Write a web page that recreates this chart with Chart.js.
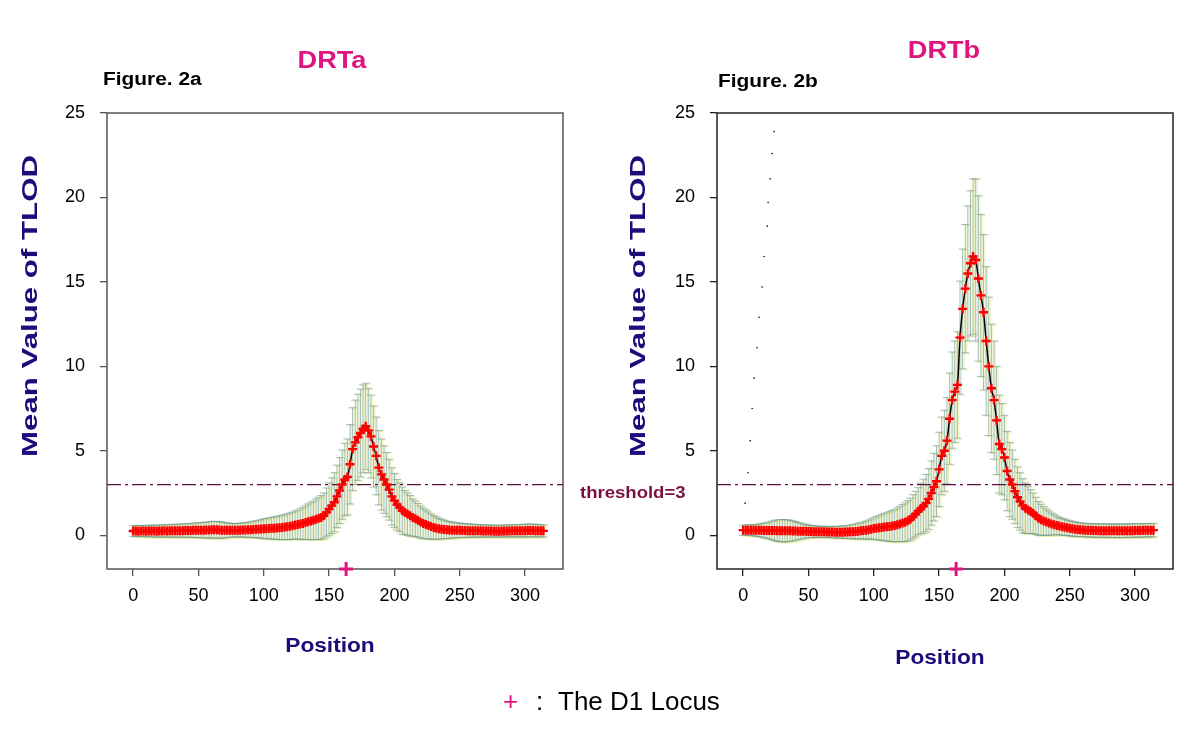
<!DOCTYPE html>
<html>
<head>
<meta charset="utf-8">
<script src="https://cdn.jsdelivr.net/npm/chart.js@4"></script>
<style>
    body { margin: 0; background: #fff; font-family: "Liberation Sans", Arial, sans-serif; }
    #page { position: relative; width: 1200px; height: 751px; overflow: hidden; }
    .panel { position: absolute; top: 0; }
    .txt { position: absolute; white-space: nowrap; }
    .title { color: #e0147f; font-weight: bold; font-size: 24px; transform: translate(-50%, -50%) scaleX(1.13); }
    .fig { color: #000; font-weight: bold; font-size: 18px; transform-origin: left center; transform: translateY(-50%) scaleX(1.16); }
    .xlab { color: #1e0a78; font-weight: bold; font-size: 21px; transform: translate(-50%, -50%) scaleX(1.08); }
    .ylab { color: #1e0a78; font-weight: bold; font-size: 22px; transform: translate(-50%, -50%) rotate(-90deg) scaleX(1.42); }
</style>
</head>
<body>
<div id="page">
    <div class="panel" style="left:0;width:600px;height:751px;"><canvas id="chart-a" width="600" height="751"></canvas></div>
    <div class="panel" style="left:610px;width:590px;height:751px;"><canvas id="chart-b" width="590" height="751"></canvas></div>

    <div class="txt title" style="left:332px;top:60px;">DRTa</div>
    <div class="txt title" style="left:944px;top:50px;">DRTb</div>
    <div class="txt fig" style="left:103px;top:79px;">Figure. 2a</div>
    <div class="txt fig" style="left:718px;top:81px;">Figure. 2b</div>
    <div class="txt ylab" style="left:30px;top:306px;">Mean Value of TLOD</div>
    <div class="txt ylab" style="left:638px;top:306px;">Mean Value of TLOD</div>
    <div class="txt xlab" style="left:330px;top:645px;">Position</div>
    <div class="txt xlab" style="left:940px;top:657px;">Position</div>
    <div class="txt" style="left:580px;top:483px;color:#7a1040;font-weight:bold;font-size:17px;transform-origin:left center;transform:scaleX(1.09);">threshold=3</div>
    <div class="txt" style="left:503px;top:686px;font-size:26px;color:#e0147f;">+</div>
    <div class="txt" style="left:536px;top:686px;font-size:26px;color:#000;">:</div>
    <div class="txt" style="left:558px;top:686px;font-size:26px;color:#000;">The D1 Locus</div>
</div>

<script>
// Dados
const positions = [0,2,4,6,8,10,12,14,16,18,20,22,24,26,28,30,32,34,36,38,40,42,44,46,48,50,52,54,56,58,60,62,64,66,68,70,72,74,76,78,80,82,84,86,88,90,92,94,96,98,100,102,104,106,108,110,112,114,116,118,120,122,124,126,128,130,132,134,136,138,140,142,144,146,148,150,152,154,156,158,160,162,164,166,168,170,172,174,176,178,180,182,184,186,188,190,192,194,196,198,200,202,204,206,208,210,212,214,216,218,220,222,224,226,228,230,232,234,236,238,240,242,244,246,248,250,252,254,256,258,260,262,264,266,268,270,272,274,276,278,280,282,284,286,288,290,292,294,296,298,300,302,304,306,308,310,312,314];

const meanA = [
    0.25,0.25,0.24,0.25,0.25,0.24,0.25,0.25,0.25,0.24,0.25,
    0.25,0.26,0.25,0.26,0.26,0.27,0.26,0.27,0.27,0.28,0.28,0.28,0.29,0.29,0.3,0.3,0.3,0.31,0.31,0.32,
    0.32,0.32,0.31,0.3,0.3,0.29,0.29,0.29,0.29,0.3,0.3,0.31,0.31,0.32,0.33,0.34,0.35,0.36,0.37,0.38,
    0.39,0.4,0.41,0.42,0.43,0.44,0.46,0.48,0.5,0.53,0.56,0.6,0.63,0.66,0.7,0.75,0.8,0.84,0.88,0.95,
    1.0,1.05,1.15,1.35,1.55,1.75,1.95,2.3,2.65,3.0,3.3,3.45,4.2,5.1,5.5,5.8,6.05,6.3,6.45,6.2,5.85,5.25,4.7,4.0,3.6,3.3,3.0,2.7,2.3,2.05,
    1.8,1.65,1.45,1.35,1.25,1.15,1.05,0.97,0.88,0.78,0.7,0.64,0.58,0.51,0.46,0.42,0.38,0.36,0.34,0.32,
    0.31,0.3,0.3,0.29,0.29,0.28,0.28,0.27,0.27,0.27,0.26,0.26,0.26,0.25,0.25,0.25,0.25,0.24,0.24,0.24,0.24,0.25,0.25,0.25,0.26,0.26,0.26,0.27,0.27,0.27,0.28,0.28,0.28,0.27,0.27,0.26,0.26
];
const sdA = [
    0.32,0.32,0.33,0.33,0.33,0.34,0.34,0.35,0.35,0.35,0.36,
    0.36,0.36,0.37,0.37,0.38,0.38,0.38,0.39,0.39,0.4,0.4,0.41,0.42,0.43,0.44,0.45,0.46,0.47,0.48,0.49,
    0.5,0.5,0.49,0.48,0.46,0.44,0.42,0.4,0.4,0.4,0.41,0.42,0.43,0.44,0.46,0.48,0.5,0.52,0.55,0.58,
    0.6,0.62,0.64,0.66,0.68,0.7,0.72,0.74,0.76,0.78,0.8,0.83,0.86,0.9,0.95,1.0,1.05,1.1,1.15,1.2,
    1.25,1.3,1.35,1.45,1.55,1.65,1.75,1.85,1.95,2.05,2.15,2.25,2.35,2.45,2.5,2.55,2.6,2.6,2.55,2.5,2.45,2.4,2.3,2.2,2.1,2.0,1.9,1.8,1.7,1.6,
    1.5,1.45,1.4,1.3,1.25,1.2,1.1,1.05,1.0,0.95,0.9,0.85,0.8,0.75,0.7,0.66,0.62,0.58,0.55,0.52,
    0.5,0.48,0.46,0.44,0.43,0.42,0.41,0.4,0.39,0.38,0.38,0.37,0.37,0.36,0.36,0.36,0.35,0.35,0.35,0.35,0.35,0.35,0.35,0.36,0.36,0.36,0.37,0.37,0.37,0.38,0.38,0.38,0.38,0.37,0.37,0.36,0.36
];

const meanB = [
    0.3,0.3,0.3,0.3,0.29,0.29,0.29,0.29,0.28,0.28,0.28,
    0.28,0.28,0.27,0.27,0.27,0.26,0.26,0.26,0.25,0.25,0.24,0.24,0.23,0.23,0.22,0.22,0.21,0.21,0.2,0.2,
    0.2,0.19,0.19,0.19,0.18,0.18,0.18,0.18,0.19,0.19,0.2,0.21,0.22,0.24,0.26,0.28,0.3,0.33,0.36,0.4,
    0.42,0.44,0.46,0.48,0.5,0.52,0.54,0.57,0.62,0.67,0.72,0.77,0.85,0.95,1.1,1.25,1.42,1.58,1.72,1.9,
    2.15,2.5,2.85,3.2,3.9,4.7,5.0,5.6,6.9,8.0,8.5,8.9,11.7,13.4,14.6,15.5,16.1,16.5,16.3,15.2,14.2,13.2,11.5,10.0,8.7,8.0,6.8,5.4,5.1,4.6,
    3.8,3.3,3.0,2.6,2.25,2.0,1.75,1.6,1.5,1.4,1.3,1.15,1.0,0.92,0.84,0.78,0.72,0.66,0.62,0.58,
    0.54,0.5,0.47,0.44,0.41,0.38,0.36,0.34,0.32,0.31,0.3,0.29,0.29,0.28,0.28,0.27,0.27,0.27,0.27,0.27,0.26,0.26,0.26,0.26,0.26,0.26,0.27,0.27,0.27,0.28,0.28,0.28,0.29,0.29,0.3,0.3,0.3
];
const sdB = [
    0.3,0.3,0.31,0.32,0.33,0.35,0.37,0.4,0.43,0.46,0.5,
    0.55,0.6,0.63,0.65,0.66,0.66,0.65,0.63,0.6,0.56,0.52,0.48,0.44,0.4,0.38,0.36,0.35,0.34,0.33,0.33,
    0.33,0.33,0.33,0.34,0.34,0.35,0.35,0.36,0.37,0.38,0.4,0.42,0.44,0.46,0.48,0.5,0.53,0.56,0.6,0.64,
    0.68,0.72,0.76,0.8,0.84,0.88,0.92,0.96,1.0,1.05,1.1,1.15,1.2,1.25,1.3,1.35,1.4,1.5,1.6,1.7,
    1.8,1.9,2.0,2.1,2.2,2.3,2.4,2.55,2.7,2.85,3.0,3.15,3.35,3.55,3.8,4.0,4.3,4.6,4.8,4.9,4.8,4.6,4.4,4.1,3.8,3.5,3.2,2.9,2.7,2.5,
    2.35,2.2,2.05,1.9,1.8,1.7,1.6,1.5,1.4,1.3,1.2,1.1,1.0,0.92,0.85,0.78,0.72,0.66,0.6,0.55,
    0.52,0.5,0.48,0.46,0.45,0.44,0.43,0.42,0.41,0.4,0.4,0.4,0.4,0.4,0.4,0.4,0.4,0.4,0.4,0.4,0.4,0.4,0.4,0.4,0.4,0.4,0.4,0.4,0.4,0.4,0.4,0.4,0.4,0.4,0.4,0.4,0.4
];

// pontinhos soltos no painel 2b
const dotsX = [1.5,3.8,5.4,6.9,8.4,10.7,12.2,14.5,16.1,18.4,19.1,20.7,22.2,23.7];
const dotsY = [1.9,3.7,5.6,7.5,9.3,11.1,12.9,14.7,16.5,18.3,19.7,21.1,22.6,23.9];

const locusPosition = 163;
const threshold = 3;
const xTicks = [0, 50, 100, 150, 200, 250, 300];
const yTicks = [0, 5, 10, 15, 20, 25];

// Moldura e barras de erro, desenhadas com as escalas do Chart.js
const errorBarsPlugin = {
    id: 'errorBars',
    beforeDatasetsDraw(chart, args, opts) {
        const { ctx, chartArea, scales } = chart;
        ctx.save();
        ctx.strokeStyle = opts.boxColor || '#333';
        ctx.lineWidth = 1.5;
        ctx.strokeRect(chartArea.left, chartArea.top, chartArea.width, chartArea.height);

        ctx.beginPath();
        ctx.rect(chartArea.left, chartArea.top, chartArea.width, chartArea.height);
        ctx.clip();
        chart.data.datasets.forEach(ds => {
            if (!ds.errors) return;
            ds.data.forEach((p, i) => {
                const x = scales.x.getPixelForValue(p.x);
                const top = scales.y.getPixelForValue(p.y + ds.errors[i]);
                const bot = scales.y.getPixelForValue(p.y - ds.errors[i]);
                ctx.lineWidth = 1;
                ctx.strokeStyle = 'rgba(232, 235, 160, 0.75)';
                ctx.beginPath();
                ctx.moveTo(x + 1.5, top); ctx.lineTo(x + 1.5, bot);
                ctx.moveTo(x - 2, top + 1); ctx.lineTo(x + 5, top + 1);
                ctx.moveTo(x - 2, bot + 1); ctx.lineTo(x + 5, bot + 1);
                ctx.stroke();
                ctx.strokeStyle = 'rgba(110, 155, 140, 0.65)';
                ctx.beginPath();
                ctx.moveTo(x, top); ctx.lineTo(x, bot);
                ctx.moveTo(x - 4, top); ctx.lineTo(x + 4, top);
                ctx.moveTo(x - 4, bot); ctx.lineTo(x + 4, bot);
                ctx.stroke();
            });
        });
        ctx.restore();
    }
};

function buildChart(canvasId, means, sds, rightPad, extraDots, boxColor) {
    const points = positions.map((x, i) => ({ x: x, y: means[i] }));
    const datasets = [
        {
            type: 'line',
            data: [{ x: -20, y: threshold }, { x: 329, y: threshold }],
            borderColor: '#5c1040',
            borderWidth: 1.3,
            borderDash: [14, 4, 3, 4],
            pointRadius: 0,
            order: 5
        },
        {
            type: 'line',
            data: points,
            errors: sds,
            borderColor: '#000',
            borderWidth: 1.5,
            tension: 0.3,
            pointStyle: 'cross',
            pointRadius: 4.5,
            pointBorderWidth: 2.4,
            pointBorderColor: '#ff0000',
            order: 1
        },
        {
            type: 'scatter',
            data: [{ x: locusPosition, y: -2 }],
            pointStyle: 'cross',
            pointRadius: 7,
            pointBorderWidth: 3,
            pointBorderColor: '#e0147f',
            clip: false,
            order: 0
        }
    ];
    if (extraDots) {
        datasets.push({
            type: 'scatter',
            data: dotsX.map((x, i) => ({ x: x, y: dotsY[i] })),
            pointRadius: 0.8,
            pointBorderWidth: 0,
            pointBackgroundColor: '#000',
            order: 2
        });
    }

    return new Chart(document.getElementById(canvasId), {
        data: { datasets: datasets },
        plugins: [errorBarsPlugin],
        options: {
            responsive: false,
            animation: false,
            devicePixelRatio: 1,
            layout: { padding: { top: 113, right: rightPad, bottom: 0, left: 0 } },
            plugins: {
                legend: { display: false },
                tooltip: { enabled: false },
                errorBars: { boxColor: boxColor }
            },
            scales: {
                x: {
                    type: 'linear',
                    min: -20,
                    max: 329,
                    afterBuildTicks: scale => { scale.ticks = xTicks.map(v => ({ value: v })); },
                    afterFit: scale => { scale.height = 182; },
                    grid: { drawOnChartArea: false, tickLength: 7, color: boxColor, lineWidth: 1.3 },
                    border: { display: false },
                    ticks: { color: '#000', padding: 9, font: { family: 'Liberation Sans', size: 18 } }
                },
                y: {
                    min: -2,
                    max: 25,
                    afterBuildTicks: scale => { scale.ticks = yTicks.map(v => ({ value: v })); },
                    afterFit: scale => { scale.width = 107; },
                    grid: { drawOnChartArea: false, tickLength: 7, color: boxColor, lineWidth: 1.3 },
                    border: { display: false },
                    ticks: { color: '#000', padding: 15, font: { family: 'Liberation Sans', size: 18 } }
                }
            }
        }
    });
}

buildChart('chart-a', meanA, sdA, 37, false, '#555');
buildChart('chart-b', meanB, sdB, 27, true, '#222');
</script>
</body>
</html>
